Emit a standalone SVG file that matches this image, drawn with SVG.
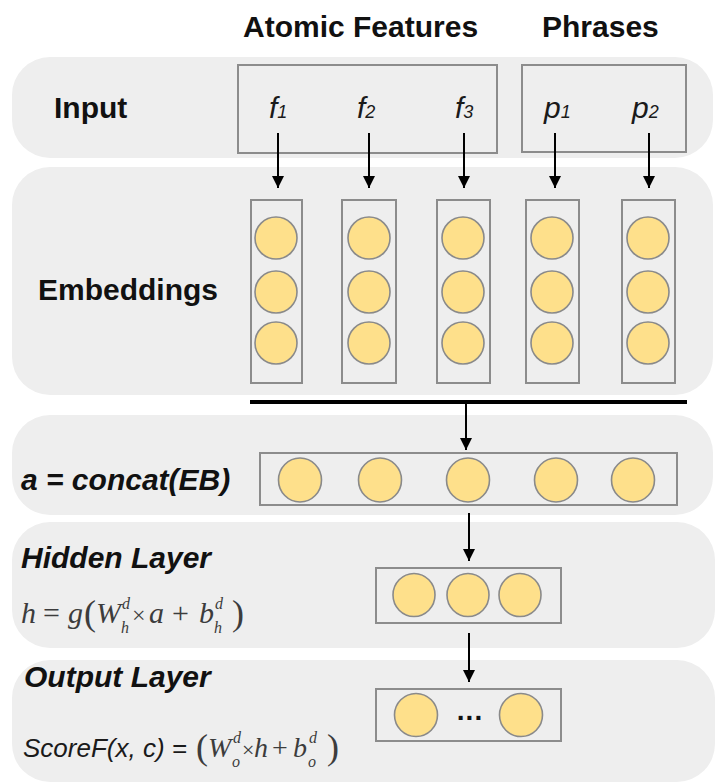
<svg xmlns="http://www.w3.org/2000/svg" width="719" height="784" viewBox="0 0 719 784">
<defs>
<style>
.band{fill:#eeeeee;}
.box{fill:none;stroke:#8c8c8c;stroke-width:2;}
.unit{fill:#fee08b;stroke:#8a8a8a;stroke-width:1.6;}
.lbl{font-family:"Liberation Sans",Arial,sans-serif;font-weight:bold;font-size:30px;fill:#111;}
.var{font-family:"Liberation Sans",Arial,sans-serif;font-style:italic;font-size:30px;fill:#1a1a1a;}
.sub{font-size:18px;}
.m{font-family:"Liberation Serif","Times New Roman",serif;font-size:30px;fill:#3c3c3c;}
.mi{font-style:italic;}
.ms{font-size:16px;font-style:italic;}
.mp{font-size:36px;}
.conn{stroke:#000;stroke-width:2;fill:none;}
</style>
<marker id="ah" viewBox="0 0 12 12" markerWidth="12" markerHeight="12" refX="12" refY="6" orient="auto" markerUnits="userSpaceOnUse">
<path d="M0,0 L12,6 L0,12 z" fill="#000"/>
</marker>
</defs>
<rect width="719" height="784" fill="#ffffff"/>

<g id="headers">
<text class="lbl" x="243" y="37">Atomic Features</text>
<text class="lbl" x="542" y="37">Phrases</text>
</g>

<g id="input-layer">
<rect class="band" x="12" y="57" width="701" height="101" rx="38"/>
<text class="lbl" x="54" y="118">Input</text>
<rect class="box" x="238" y="65" width="259" height="88"/>
<rect class="box" x="522" y="65" width="164" height="87"/>
<text class="var" x="269" y="118">f<tspan class="sub">1</tspan></text>
<text class="var" x="357" y="118">f<tspan class="sub">2</tspan></text>
<text class="var" x="455" y="118">f<tspan class="sub">3</tspan></text>
<text class="var" x="544" y="118">p<tspan class="sub">1</tspan></text>
<text class="var" x="632" y="118">p<tspan class="sub">2</tspan></text>
</g>

<g id="embeddings-layer">
<rect class="band" x="12" y="167" width="701" height="228" rx="38"/>
<text class="lbl" x="38" y="300">Embeddings</text>
<g id="emb-f1">
<rect class="box" x="251" y="200" width="51" height="183"/>
<ellipse class="unit" cx="276" cy="238" rx="21" ry="21"/>
<ellipse class="unit" cx="276" cy="292" rx="21" ry="21"/>
<ellipse class="unit" cx="276" cy="343" rx="21" ry="21"/>
</g>
<g id="emb-f2">
<rect class="box" x="342" y="200" width="54" height="183"/>
<ellipse class="unit" cx="369" cy="238" rx="21" ry="21"/>
<ellipse class="unit" cx="369" cy="292" rx="21" ry="21"/>
<ellipse class="unit" cx="369" cy="343" rx="21" ry="21"/>
</g>
<g id="emb-f3">
<rect class="box" x="437" y="200" width="53" height="183"/>
<ellipse class="unit" cx="463" cy="238" rx="21" ry="21"/>
<ellipse class="unit" cx="463" cy="292" rx="21" ry="21"/>
<ellipse class="unit" cx="463" cy="343" rx="21" ry="21"/>
</g>
<g id="emb-p1">
<rect class="box" x="526" y="200" width="53" height="183"/>
<ellipse class="unit" cx="552" cy="238" rx="21" ry="21"/>
<ellipse class="unit" cx="552" cy="292" rx="21" ry="21"/>
<ellipse class="unit" cx="552" cy="343" rx="21" ry="21"/>
</g>
<g id="emb-p2">
<rect class="box" x="622" y="200" width="53" height="183"/>
<ellipse class="unit" cx="648" cy="238" rx="21" ry="21"/>
<ellipse class="unit" cx="648" cy="292" rx="21" ry="21"/>
<ellipse class="unit" cx="648" cy="343" rx="21" ry="21"/>
</g>
</g>

<g id="concat-layer">
<rect class="band" x="12" y="415" width="701" height="100" rx="38"/>
<text class="lbl" x="21" y="490" font-style="italic">a = concat(EB)</text>
<rect class="box" x="260" y="453" width="417" height="52"/>
<ellipse class="unit" cx="300" cy="480" rx="21.5" ry="22"/>
<ellipse class="unit" cx="380" cy="480" rx="21.5" ry="22"/>
<ellipse class="unit" cx="468" cy="480" rx="21.5" ry="22"/>
<ellipse class="unit" cx="556" cy="480" rx="21.5" ry="22"/>
<ellipse class="unit" cx="633" cy="480" rx="21.5" ry="22"/>
</g>

<g id="hidden-layer">
<rect class="band" x="12" y="522" width="703" height="126" rx="38"/>
<text class="lbl" x="21" y="568" font-style="italic">Hidden Layer</text>
<text class="m"><tspan class="mi" x="21" y="623">h</tspan><tspan x="43" y="623">=</tspan><tspan class="mi" x="68" y="623">g</tspan><tspan class="mp" x="84" y="625">(</tspan><tspan class="mi" x="96" y="623">W</tspan><tspan class="ms" x="122" y="609">d</tspan><tspan class="ms" x="121" y="633">h</tspan><tspan x="132" y="623" font-size="24">×</tspan><tspan class="mi" x="149" y="623">a</tspan><tspan x="172" y="623">+</tspan><tspan class="mi" x="199" y="623">b</tspan><tspan class="ms" x="215" y="609">d</tspan><tspan class="ms" x="214" y="633">h</tspan><tspan class="mp" x="232" y="625">)</tspan></text>
<rect class="box" x="376" y="568" width="185" height="55"/>
<ellipse class="unit" cx="414" cy="595" rx="21" ry="21.5"/>
<ellipse class="unit" cx="468" cy="595" rx="21" ry="21.5"/>
<ellipse class="unit" cx="520" cy="595" rx="21" ry="21.5"/>
</g>

<g id="output-layer">
<rect class="band" x="12" y="660" width="703" height="122" rx="38"/>
<text class="lbl" x="24" y="687" font-style="italic">Output Layer</text>
<text class="var" x="23" y="757" style="font-size:26px">ScoreF(x, c) =</text>
<text class="m" style="font-size:28px"><tspan class="mp" x="196" y="759">(</tspan><tspan class="mi" x="208" y="757">W</tspan><tspan class="ms" x="233" y="743">d</tspan><tspan class="ms" x="232" y="767">o</tspan><tspan x="242" y="757" font-size="22">×</tspan><tspan class="mi" x="254" y="757">h</tspan><tspan x="272" y="757">+</tspan><tspan class="mi" x="293" y="757">b</tspan><tspan class="ms" x="309" y="743">d</tspan><tspan class="ms" x="308" y="767">o</tspan><tspan class="mp" x="327" y="759">)</tspan></text>
<rect class="box" x="376" y="689" width="185" height="52"/>
<ellipse class="unit" cx="416" cy="715" rx="21.5" ry="21.5"/>
<text class="lbl" x="470" y="720" text-anchor="middle" letter-spacing="1" style="font-size:28px">...</text>
<ellipse class="unit" cx="521" cy="715" rx="21.5" ry="21.5"/>
</g>

<g id="connectors">
<line class="conn" x1="278" y1="133" x2="278" y2="188" marker-end="url(#ah)"/>
<line class="conn" x1="369" y1="133" x2="369" y2="188" marker-end="url(#ah)"/>
<line class="conn" x1="464" y1="133" x2="464" y2="188" marker-end="url(#ah)"/>
<line class="conn" x1="555" y1="133" x2="555" y2="188" marker-end="url(#ah)"/>
<line class="conn" x1="649" y1="133" x2="649" y2="188" marker-end="url(#ah)"/>
<line x1="250" y1="402" x2="687" y2="402" stroke="#000" stroke-width="4"/>
<line class="conn" x1="466" y1="402" x2="466" y2="450" marker-end="url(#ah)"/>
<line class="conn" x1="469" y1="513" x2="469" y2="561" marker-end="url(#ah)"/>
<line class="conn" x1="469" y1="633" x2="469" y2="682" marker-end="url(#ah)"/>
</g>
</svg>
